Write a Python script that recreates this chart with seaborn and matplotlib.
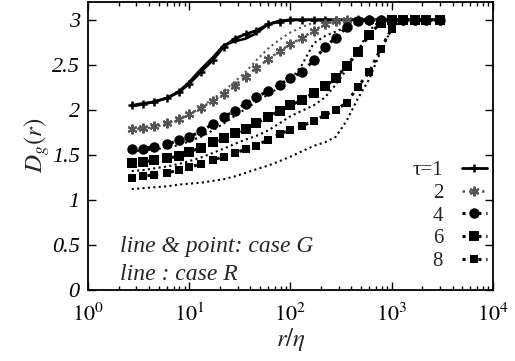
import matplotlib
matplotlib.use("Agg")
import matplotlib.pyplot as plt
import seaborn as sns
from matplotlib.ticker import LogLocator, NullFormatter

# r/eta sample points (shared by all curves)
r = [2.7, 3.5, 4.5, 6, 8, 10, 13, 17, 22, 28, 36, 46, 60, 78, 100, 130, 170,
     220, 280, 360, 460, 600, 780, 1000, 1300, 1700, 2200, 3000]

# case G (line & point)
g_tau1 = [2.05, 2.07, 2.09, 2.13, 2.20, 2.29, 2.42, 2.55, 2.70, 2.79, 2.84, 2.88, 2.95, 2.98,
          3.0, 3.0, 3.0, 3.0, 3.0, 3.0, 3.0, 3.0, 3.0, 3.0, 3.0, 3.0, 3.0, 3.0]
g_tau2 = [1.79, 1.80, 1.82, 1.85, 1.90, 1.95, 2.02, 2.10, 2.18, 2.27, 2.37, 2.46, 2.56, 2.65,
          2.73, 2.80, 2.88, 2.95, 2.99, 3.0, 3.0, 3.0, 3.0, 3.0, 3.0, 3.0, 3.0, 3.0]
g_tau4 = [1.56, 1.57, 1.59, 1.62, 1.66, 1.70, 1.76, 1.84, 1.92, 1.99, 2.07, 2.14, 2.21, 2.28,
          2.35, 2.42, 2.55, 2.70, 2.80, 2.92, 2.99, 3.0, 3.0, 3.0, 3.0, 3.0, 3.0, 3.0]
g_tau6 = [1.41, 1.42, 1.44, 1.46, 1.49, 1.53, 1.58, 1.64, 1.69, 1.74, 1.79, 1.85, 1.92, 1.99,
          2.05, 2.11, 2.19, 2.26, 2.35, 2.49, 2.64, 2.83, 2.97, 3.0, 3.0, 3.0, 3.0, 3.0]
g_tau8 = [1.24, 1.26, 1.28, 1.30, 1.33, 1.36, 1.40, 1.44, 1.48, 1.52, 1.56, 1.60, 1.67, 1.73,
          1.78, 1.82, 1.88, 1.94, 2.00, 2.08, 2.25, 2.42, 2.68, 2.90, 3.0, 3.0, 3.0, 3.0]

# case R (line only)
r_tau1 = [2.04, 2.06, 2.09, 2.13, 2.21, 2.31, 2.45, 2.58, 2.72, 2.76, 2.79, 2.85, 2.95, 2.99,
          3.0, 3.0, 3.0, 3.0, 3.0, 3.0, 3.0, 3.0, 3.0, 3.0, 3.0, 3.0, 3.0, 3.0]
r_tau2 = [1.78, 1.79, 1.81, 1.84, 1.89, 1.95, 2.03, 2.12, 2.21, 2.31, 2.42, 2.55, 2.68, 2.78,
          2.86, 2.92, 2.97, 3.0, 3.0, 3.0, 3.0, 3.0, 3.0, 3.0, 3.0, 3.0, 3.0, 3.0]
r_tau4 = [1.54, 1.55, 1.56, 1.58, 1.61, 1.65, 1.70, 1.77, 1.85, 1.93, 2.01, 2.09, 2.17, 2.25,
          2.33, 2.50, 2.74, 2.82, 2.87, 2.92, 2.97, 3.0, 3.0, 3.0, 3.0, 3.0, 3.0, 3.0]
r_tau6 = [1.32, 1.33, 1.35, 1.37, 1.40, 1.43, 1.47, 1.52, 1.57, 1.62, 1.67, 1.71, 1.77, 1.85,
          1.93, 1.99, 2.05, 2.14, 2.28, 2.45, 2.65, 2.88, 3.0, 3.0, 3.0, 3.0, 3.0, 3.0]
r_tau8 = [1.12, 1.13, 1.14, 1.15, 1.17, 1.18, 1.19, 1.21, 1.23, 1.26, 1.30, 1.34, 1.38, 1.43,
          1.48, 1.54, 1.60, 1.64, 1.70, 1.88, 2.12, 2.34, 2.65, 2.90, 3.0, 3.0, 3.0, 3.0]

taus = ["1", "2", "4", "6", "8"]
legend_labels = ["τ=1", "2", "4", "6", "8"]
case_g = [g_tau1, g_tau2, g_tau4, g_tau6, g_tau8]
case_r = [r_tau1, r_tau2, r_tau4, r_tau6, r_tau8]

x_ticks = [1, 10, 100, 1000, 10000]
x_tick_labels = [r"$10^{0}$", r"$10^{1}$", r"$10^{2}$", r"$10^{3}$", r"$10^{4}$"]
y_ticks = [0, 0.5, 1, 1.5, 2, 2.5, 3]
y_tick_labels = ["0", "0.5", "1", "1.5", "2", "2.5", "3"]

sns.set_theme(style="ticks")
plt.rcParams["font.family"] = ["Liberation Serif", "DejaVu Serif"]
plt.rcParams["mathtext.fontset"] = "stix"

dot = (0, (1, 1.6))
styles = {
    "1": dict(color="black", marker="+", ms=6, mew=1.8, ls="-", lw=2.0),
    "2": dict(color="#555555", marker=(6, 2, 0), ms=7, mew=1.5, ls=dot, lw=1.8),
    "4": dict(color="black", marker="o", ms=7.5, mew=0, ls=dot, lw=2.2),
    "6": dict(color="black", marker="s", ms=7, mew=0, ls=dot, lw=2.2),
    "8": dict(color="black", marker="s", ms=6, mew=0, ls=dot, lw=2.2),
}

fig = plt.figure(figsize=(5.15, 3.61), dpi=100)
ax = fig.add_axes([0.171, 0.197, 0.786, 0.798])

# case R: lines only
for t, d in zip(taus, case_r):
    st = styles[t]
    sns.lineplot(x=r, y=d, ax=ax, color=st["color"], linestyle=st["ls"],
                 lw=1.5 if t != "1" else 1.8, estimator=None, sort=False)

# case G: line & point
handles = []
for t, d in zip(taus, case_g):
    st = styles[t]
    sns.lineplot(x=r, y=d, ax=ax, color=st["color"], linestyle=st["ls"], lw=st["lw"],
                 marker=st["marker"], markersize=st["ms"], markeredgewidth=st["mew"],
                 markeredgecolor=st["color"], estimator=None, sort=False)
    handles.append(ax.lines[-1])

ax.set_xscale("log")
ax.set_xlim(1, 10000)
ax.set_ylim(0, 3.2)
ax.set_xticks(x_ticks)
ax.set_xticklabels(x_tick_labels, fontsize=16)
ax.xaxis.set_minor_locator(LogLocator(base=10, subs=range(2, 10), numticks=20))
ax.xaxis.set_minor_formatter(NullFormatter())
ax.set_yticks(y_ticks)
ax.set_yticklabels(y_tick_labels, fontsize=16, fontstyle="italic")
ax.tick_params(axis="both", which="both", direction="in", top=True, right=True,
               colors="black", width=1.0)
ax.tick_params(which="major", length=6)
ax.tick_params(axis="x", which="major", pad=10)
ax.tick_params(axis="y", which="major", pad=6)
ax.tick_params(which="minor", length=3)
for sp in ax.spines.values():
    sp.set_linewidth(1.3)
    sp.set_color("black")

ax.set_xlabel(r"$r/\eta$", fontsize=18, labelpad=0)
ax.set_ylabel(r"$D_g(r)$", fontsize=18, labelpad=0)

ax.text(0.08, 0.13, "line & point: case G", transform=ax.transAxes,
        fontsize=17, fontstyle="italic", ha="left", va="baseline")
ax.text(0.08, 0.035, "line : case R", transform=ax.transAxes,
        fontsize=17, fontstyle="italic", ha="left", va="baseline")

ax.legend(handles, legend_labels, loc="lower right", bbox_to_anchor=(0.985, 0.065),
          frameon=False, markerfirst=False, fontsize=15, handlelength=1.2,
          handletextpad=0.9, labelspacing=0.15, borderpad=0, borderaxespad=0)

fig.savefig("out.png", dpi=100)
